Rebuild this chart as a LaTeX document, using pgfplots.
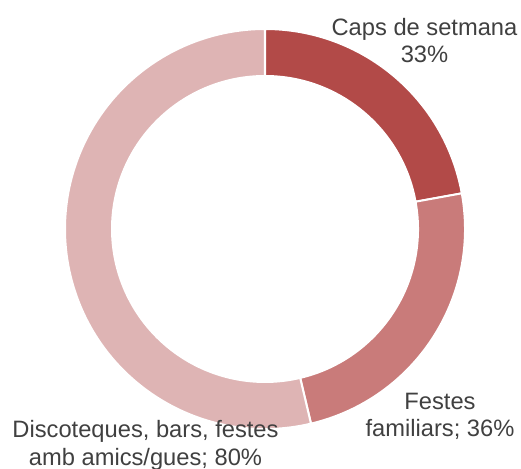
\documentclass[border=0pt]{standalone}
\usepackage{pgfplots}
\pgfplotsset{compat=1.18}
\usepackage{fontspec}
\setmainfont{Liberation Sans}

\definecolor{darkred}{HTML}{B24A48}
\definecolor{midred}{HTML}{C97B7A}
\definecolor{lightred}{HTML}{DEB4B4}
\definecolor{txt}{HTML}{404040}

% slice values (share of respondents, %)
\def\vA{33}
\def\vB{36}
\def\vC{80}
\pgfmathsetmacro{\total}{\vA+\vB+\vC}
\pgfmathsetmacro{\aA}{90}
\pgfmathsetmacro{\aB}{\aA-\vA/\total*360}
\pgfmathsetmacro{\aC}{\aB-\vB/\total*360}
\pgfmathsetmacro{\aD}{\aC-\vC/\total*360}

\def\Ro{200bp}
\def\Rw{47bp}
\def\Ri{153bp}

\newcommand{\slice}[3]{%
  \fill[#3, draw=white, line width=2bp] (axis cs:265,240) ++(#1:\Ro)
    arc[start angle=#1, end angle=#2, radius=\Ro]
    -- ++(#2:-\Rw)
    arc[start angle=#2, end angle=#1, radius=\Ri] -- cycle;}

% anchor=base sits on the last line's baseline
\tikzset{lbl/.style={align=center, text=txt, anchor=base, inner sep=0pt,
    font=\fontsize{23.7bp}{27.5bp}\selectfont}}

\begin{document}
\begin{tikzpicture}
\begin{axis}[
    width=521bp, height=469bp,
    scale only axis,
    xmin=0, xmax=521, ymin=0, ymax=469,
    hide axis,
    clip=false,
]
\slice{\aA}{\aB}{darkred}
\slice{\aB}{\aC}{midred}
\slice{\aC}{\aD}{lightred}

\node[lbl] at (axis cs:424.5,406) {Caps de setmana\\33\%};
\node[lbl] at (axis cs:440,32) {Festes\\familiars; 36\%};
\node[lbl] at (axis cs:145.5,4) {Discoteques, bars, festes\\amb amics/gues; 80\%};
\end{axis}
\pgfresetboundingbox
\path (0,0) rectangle (521bp,469bp);
\end{tikzpicture}
\end{document}
